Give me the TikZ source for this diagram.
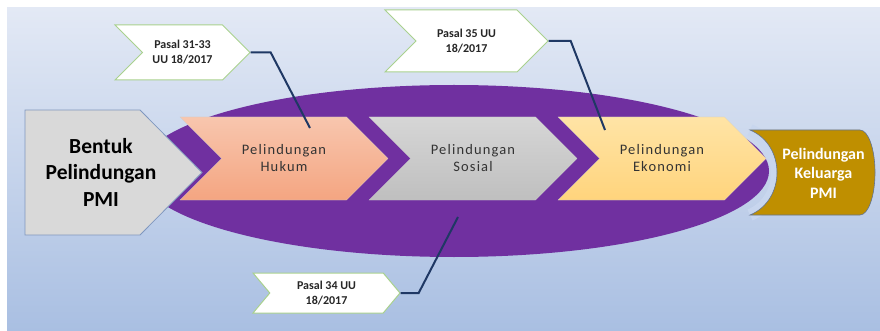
\documentclass[tikz,border=0pt]{standalone}
\usepackage{fontspec}
\setmainfont{Carlito}
\usetikzlibrary{shapes.symbols}

\definecolor{bgtop}{HTML}{E3E9F5}
\definecolor{bgbot}{HTML}{A9BFE2}
\definecolor{ungu}{HTML}{7030A0}
\definecolor{abu}{HTML}{D9D9D9}
\definecolor{tepi}{HTML}{7F97BF}
\definecolor{jingga1}{HTML}{F8C6AE}
\definecolor{jingga2}{HTML}{F4A581}
\definecolor{perak1}{HTML}{D6D6D6}
\definecolor{perak2}{HTML}{BFBFBF}
\definecolor{kuning1}{HTML}{FFE4A6}
\definecolor{kuning2}{HTML}{FFD47C}
\definecolor{emas}{HTML}{BF8F00}
\definecolor{sabit}{HTML}{C8D6EE}
\definecolor{hijau}{HTML}{A9D18E}
\definecolor{garis}{HTML}{1F3864}

\tikzset{
  chev/.style={signal, signal from=west, signal to=east, signal pointer angle=90,
    minimum width=208, minimum height=83, inner sep=0pt, draw=black!20, line width=0.3pt,
    align=center, text=black!80,
    font=\fontsize{14.5}{17}\selectfont\addfontfeature{LetterSpace=8}},
  pasal/.style={signal, signal from=west, signal to=east, signal pointer angle=90,
    fill=white, draw=hijau, line width=1pt, inner sep=0pt, align=center,
    text=black!85, font=\bfseries\fontsize{12}{15}\selectfont},
  link/.style={draw=garis, line width=2pt},
}

\begin{document}
\begin{tikzpicture}[x=1pt,y=-1pt]
\useasboundingbox (0,0) rectangle (880,331);
\shade[top color=bgtop, bottom color=bgbot] (7,8) rectangle (880,331);

% elips ungu
\fill[ungu] (454,171) ellipse [x radius=315, y radius=86];

% bentuk pelindungan
\draw[fill=abu, draw=tepi, line width=0.8pt] (25,110) -- (140,110) -- (202,172.5) -- (140,235) -- (25,235) -- cycle;
\node[font=\bfseries\fontsize{21.5}{26.5}\selectfont, align=center] (bentuk) at (101,172) {Bentuk\\Pelindungan\\PMI};

% tiga pelindungan
\node[chev, top color=jingga1, bottom color=jingga2] (hukum) at (284,158.5) {Pelindungan\\Hukum};
\node[chev, top color=perak1, bottom color=perak2] (sosial) at (473,158.5) {Pelindungan\\Sosial};
\node[chev, top color=kuning1, bottom color=kuning2] (ekonomi) at (662,158.5) {Pelindungan\\Ekonomi};

% keluarga
\draw[sabit, line width=12pt] (750,215) .. controls (786,200) and (786,145) .. (750,130);
\draw[fill=emas, draw=garis!70, line width=0.6pt] (750,130) -- (860,130) arc[start angle=-90, end angle=90, x radius=15, y radius=42.5] -- (750,215) .. controls (786,200) and (786,145) .. (750,130) -- cycle;
\node[font=\bfseries\fontsize{16}{19.5}\selectfont, align=center, text=white] (keluarga) at (823.5,173) {Pelindungan\\Keluarga\\PMI};

% pasal
\node[pasal, minimum width=135, minimum height=55] (p1) at (182.5,52.5) {Pasal 31-33\\UU 18/2017};
\node[pasal, minimum width=163, minimum height=62] (p2) at (466.5,41) {Pasal 35 UU\\18/2017};
\node[pasal, minimum width=147, minimum height=40, signal pointer angle=100] (p3) at (326.5,293) {Pasal 34 UU\\18/2017};

\coordinate (pinhukum) at (310,128);
\coordinate (pinekonomi) at (605,130);
\coordinate (pinsosial) at (458,217);
\draw[link] (p1.east) -- ++(20,0) -- (pinhukum);
\draw[link] (p2.east) -- ++(22,0) -- (pinekonomi);
\draw[link] (p3.east) -- ++(18,0) -- (pinsosial);

\end{tikzpicture}
\end{document}
